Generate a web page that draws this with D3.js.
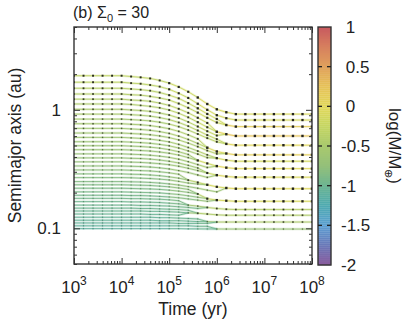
<!DOCTYPE html>
<html>
<head>
<meta charset="utf-8">
<script src="https://cdn.jsdelivr.net/npm/d3@7"></script>
<style>
  body { margin: 0; background: #fff; }
  text { font-family: "Liberation Sans", Arial, sans-serif; fill: #222; }
</style>
</head>
<body>
<div id="chart"></div>
<script>

// output times of the run, log10(yr)
var sampleLogT = [3.0,3.2,3.4,3.6,3.8,4.0,4.2,4.4,4.6,4.8,5.0,5.2,5.4,5.6,5.8,6.0,6.2,6.4,6.6,6.8,7.0,7.2,7.4,7.6,7.8,8.0];

var xMajor = [1e3, 1e4, 1e5, 1e6, 1e7, 1e8];
var yMajor = [0.1, 1];
var yLabels = ['0.1', '1'];
var cbTicks = [1, 0.5, 0, -0.5, -1, -1.5, -2];
var cbLabels = ['\u00a01', '\u00a00.5', '\u00a00', '-0.5', '-1', '-1.5', '-2'];

// colour palette for log(M/Mearth)
var paletteStops  = [-2, -1.75, -1.5, -1.25, -1, -0.75, -0.5, -0.25, 0, 0.25, 0.5, 0.75, 1];
var paletteColors = ['#8a5a9c', '#6a78b8', '#5c9fd2', '#4eaab0', '#6cb492', '#94c07a', '#a9c96e',
                     '#c5d662', '#e2d85a', '#e6c258', '#e0a15c', '#d7805e', '#c85a5f'];

// semimajor axis (au) of each embryo at the sample times;
// a shorter list ends where the embryo merged (last value = partner's position)
var orbits = [
  [1.94,1.94,1.94,1.94,1.94,1.94,1.91,1.88,1.84,1.77,1.68,1.56,1.42,1.27,1.12,1.01,0.954,0.92,0.92,0.92,0.92,0.92,0.92,0.92,0.92,0.92],
  [1.71,1.71,1.71,1.71,1.71,1.71,1.68,1.66,1.62,1.57,1.49,1.38,1.26,1.125,1.00,0.901,0.850,0.82,0.82,0.82,0.82,0.82,0.82,0.82,0.82,0.82],
  [1.52,1.52,1.52,1.52,1.52,1.52,1.50,1.48,1.45,1.40,1.33,1.25,1.14,1.03,0.923,0.837,0.744],
  [1.36,1.36,1.36,1.36,1.36,1.36,1.34,1.33,1.30,1.26,1.21,1.13,1.04,0.947,0.856,0.782,0.744,0.722,0.722,0.722,0.722,0.722,0.722,0.722,0.722,0.722],
  [1.23,1.23,1.23,1.23,1.23,1.23,1.21,1.20,1.18,1.14,1.09,1.02,0.943,0.857,0.775,0.653],
  [1.12,1.12,1.12,1.12,1.12,1.12,1.11,1.09,1.07,1.04,0.996,0.936,0.864,0.787,0.713,0.653,0.623,0.602,0.602,0.602,0.602,0.602,0.602,0.602,0.602,0.602],
  [1.01,1.01,1.01,1.01,1.01,1.01,0.998,0.987,0.970,0.941,0.904,0.853,0.790,0.723,0.660,0.607,0.623],
  [0.92,0.92,0.92,0.92,0.92,0.92,0.910,0.900,0.885,0.860,0.827,0.782,0.728,0.669,0.612,0.566,0.516],
  [0.835,0.835,0.835,0.835,0.835,0.835,0.827,0.818,0.806,0.786,0.758,0.721,0.675,0.625,0.577,0.537,0.516,0.503,0.503,0.503,0.503,0.503,0.503,0.503,0.503,0.503],
  [0.763,0.763,0.763,0.763,0.763,0.763,0.755,0.748,0.736,0.717,0.692,0.658,0.615,0.569,0.479],
  [0.697,0.697,0.697,0.697,0.697,0.697,0.690,0.683,0.672,0.655,0.632,0.600,0.562,0.520,0.479,0.445,0.428,0.417,0.417,0.417,0.417,0.417,0.417,0.417,0.417,0.417],
  [0.637,0.637,0.637,0.637,0.637,0.637,0.631,0.625,0.616,0.602,0.583,0.557,0.524,0.489,0.453,0.425,0.428],
  [0.585,0.585,0.585,0.585,0.585,0.585,0.580,0.574,0.566,0.553,0.536,0.511,0.481,0.449,0.417,0.391,0.376,0.368,0.368,0.368,0.368,0.368,0.368,0.368,0.368,0.368],
  [0.538,0.538,0.538,0.538,0.538,0.538,0.534,0.529,0.522,0.511,0.497,0.476,0.450,0.423,0.395,0.391],
  [0.498,0.498,0.498,0.498,0.498,0.498,0.494,0.490,0.484,0.475,0.461,0.443,0.420,0.374],
  [0.461,0.461,0.461,0.461,0.461,0.461,0.458,0.454,0.449,0.441,0.430,0.415,0.395,0.374,0.353,0.335,0.325,0.319,0.319,0.319,0.319,0.319,0.319,0.319,0.319,0.319],
  [0.425,0.425,0.425,0.425,0.425,0.425,0.422,0.419,0.414,0.407,0.397,0.383,0.365,0.345,0.326,0.335],
  [0.393,0.393,0.393,0.393,0.393,0.393,0.390,0.388,0.384,0.377,0.368,0.356,0.340,0.323,0.293],
  [0.364,0.364,0.364,0.364,0.364,0.364,0.362,0.360,0.356,0.351,0.344,0.334,0.321,0.307,0.293,0.281,0.274,0.270,0.270,0.270,0.270,0.270,0.270,0.270,0.270,0.270],
  [0.336,0.336,0.336,0.336,0.336,0.336,0.334,0.332,0.329,0.324,0.317,0.307,0.296,0.282,0.269,0.281],
  [0.311,0.311,0.311,0.311,0.311,0.311,0.309,0.307,0.305,0.300,0.294,0.286,0.255],
  [0.288,0.288,0.288,0.288,0.288,0.288,0.286,0.285,0.282,0.278,0.272,0.265,0.255,0.244,0.233,0.224,0.219,0.216,0.216,0.216,0.216,0.216,0.216,0.216,0.216,0.216],
  [0.268,0.268,0.268,0.268,0.268,0.268,0.267,0.265,0.263,0.260,0.256,0.249,0.241,0.236,0.233],
  [0.248,0.248,0.248,0.248,0.248,0.248,0.247,0.246,0.244,0.241,0.237,0.232,0.225,0.218,0.210,0.203,0.219],
  [0.233,0.233,0.233,0.233,0.233,0.233,0.232,0.231,0.230,0.227,0.224,0.219,0.213,0.195],
  [0.218,0.218,0.218,0.218,0.218,0.218,0.217,0.216,0.215,0.213,0.210,0.206,0.201,0.195,0.178],
  [0.203,0.203,0.203,0.203,0.203,0.203,0.202,0.201,0.200,0.199,0.196,0.193,0.188,0.183,0.178,0.173,0.171,0.169,0.169,0.169,0.169,0.169,0.169,0.169,0.169,0.169],
  [0.190,0.190,0.190,0.190,0.190,0.190,0.189,0.189,0.188,0.186,0.184,0.181,0.177,0.173,0.169,0.173],
  [0.179,0.179,0.179,0.179,0.179,0.179,0.178,0.178,0.177,0.176,0.174,0.171,0.157],
  [0.168,0.168,0.168,0.168,0.168,0.168,0.167,0.167,0.166,0.165,0.163,0.161,0.157,0.154,0.150,0.147,0.145,0.144,0.144,0.144,0.144,0.144,0.144,0.144,0.144,0.144],
  [0.157,0.157,0.157,0.157,0.157,0.157,0.157,0.156,0.156,0.155,0.154,0.152,0.150,0.147,0.150],
  [0.148,0.148,0.148,0.148,0.148,0.148,0.148,0.147,0.147,0.146,0.145,0.144,0.142,0.134],
  [0.140,0.140,0.140,0.140,0.140,0.140,0.140,0.140,0.139,0.139,0.138,0.137,0.135,0.134,0.132,0.130,0.129,0.129,0.129,0.129,0.129,0.129,0.129,0.129,0.129,0.129],
  [0.132,0.132,0.132,0.132,0.132,0.132,0.132,0.132,0.131,0.131,0.130,0.129,0.135],
  [0.124,0.124,0.124,0.124,0.124,0.124,0.124,0.124,0.124,0.123,0.123,0.122,0.121,0.120,0.114],
  [0.117,0.117,0.117,0.117,0.117,0.117,0.117,0.117,0.117,0.116,0.116,0.116,0.115,0.114,0.114,0.113,0.113,0.113,0.113,0.113,0.113,0.113,0.113,0.113,0.113,0.113],
  [0.111,0.111,0.111,0.111,0.111,0.111,0.111,0.111,0.111,0.111,0.111,0.110,0.110,0.110,0.110,0.113],
  [0.105,0.105,0.105,0.105,0.105,0.105,0.105,0.105,0.105,0.105,0.105,0.105,0.105,0.104,0.104,0.0987],
  [0.0994,0.0994,0.0994,0.0994,0.0994,0.0994,0.0994,0.0994,0.0994,0.0994,0.0994,0.0994,0.0990,0.0989,0.0988,0.0987,0.0986,0.0986,0.0986,0.0986,0.0986,0.0986,0.0986,0.0986,0.0986,0.0986]
];

// log(M/Mearth) of each embryo: [sample index from which it holds, value]
var masses = [
  [[0,-0.30],[10,-0.20],[13,-0.10]],
  [[0,-0.33],[10,-0.23],[13,-0.13]],
  [[0,-0.37],[10,-0.27],[13,-0.17]],
  [[0,-0.40],[10,-0.30],[13,-0.20],[16,0.12]],
  [[0,-0.42],[10,-0.32],[13,-0.22]],
  [[0,-0.45],[10,-0.35],[13,-0.25],[15,0.07],[16,0.23]],
  [[0,-0.48],[10,-0.38],[13,-0.28]],
  [[0,-0.50],[10,-0.40],[13,-0.30]],
  [[0,-0.53],[10,-0.43],[13,-0.33],[16,-0.01]],
  [[0,-0.55],[10,-0.45],[13,-0.35]],
  [[0,-0.58],[10,-0.48],[13,-0.38],[14,-0.06],[16,0.10]],
  [[0,-0.60],[10,-0.50],[13,-0.40]],
  [[0,-0.62],[10,-0.52],[13,-0.42],[15,-0.13]],
  [[0,-0.65],[10,-0.55],[13,-0.45]],
  [[0,-0.67],[10,-0.57]],
  [[0,-0.69],[10,-0.59],[13,-0.18],[15,-0.01]],
  [[0,-0.71],[10,-0.61],[13,-0.51]],
  [[0,-0.73],[10,-0.63],[13,-0.53]],
  [[0,-0.75],[10,-0.65],[13,-0.55],[14,-0.24],[15,-0.07]],
  [[0,-0.77],[10,-0.67],[13,-0.57]],
  [[0,-0.79],[10,-0.69]],
  [[0,-0.81],[10,-0.71],[12,-0.40],[13,-0.30],[14,-0.13],[16,-0.02]],
  [[0,-0.83],[10,-0.73],[13,-0.63]],
  [[0,-0.85],[10,-0.75],[13,-0.65]],
  [[0,-0.87],[10,-0.77]],
  [[0,-0.89],[10,-0.79],[13,-0.38]],
  [[0,-0.91],[10,-0.81],[13,-0.71],[14,-0.21],[15,-0.10]],
  [[0,-0.93],[10,-0.83],[13,-0.73]],
  [[0,-0.94],[10,-0.89]],
  [[0,-0.96],[10,-0.91],[12,-0.60],[13,-0.55],[14,-0.40]],
  [[0,-0.98],[10,-0.93],[13,-0.88]],
  [[0,-0.99],[10,-0.94]],
  [[0,-1.01],[10,-0.96],[12,-0.66],[13,-0.43]],
  [[0,-1.02],[10,-0.97]],
  [[0,-1.04],[10,-0.99],[13,-0.94]],
  [[0,-1.06],[10,-1.01],[13,-0.96],[14,-0.65],[15,-0.48]],
  [[0,-1.07],[10,-1.02],[13,-0.97]],
  [[0,-1.08],[10,-1.03],[13,-0.98]],
  [[0,-1.10],[10,-1.05],[13,-1.00],[15,-0.69]]
];

var W = 406, H = 325;
var plot = {left: 74, right: 312, top: 27, bottom: 264};
var cb = {left: 318, right: 331, top: 27, bottom: 265};

var svg = d3.select('#chart').append('svg')
  .attr('width', W)
  .attr('height', H);

var x = d3.scaleLog().domain([1e3, 1e8]).range([plot.left, plot.right]);
var y = d3.scaleLog().domain([0.05, 5]).range([plot.bottom, plot.top]);
var color = d3.scaleLinear().domain(paletteStops).range(paletteColors).clamp(true);
var cbY = d3.scaleLinear().domain([-2, 1]).range([cb.bottom, cb.top]);

function massAt(j, i) {
  var m = masses[j][0][1];
  masses[j].forEach(function(c) { if (c[0] <= i) m = c[1]; });
  return m;
}
function tx(i) { return x(Math.pow(10, sampleLogT[i])); }
function sz(m) { return Math.max(0.9, Math.min(2.4, 1.0 + (m + 0.8) * 1.9)); }
function dotOpacity(m) { return Math.max(0.35, Math.min(0.95, 0.4 + (m + 0.8) * 1.0)); }

svg.append('clipPath').attr('id', 'clip')
  .append('rect')
    .attr('x', plot.left).attr('y', plot.top)
    .attr('width', plot.right - plot.left)
    .attr('height', plot.bottom - plot.top);

var body = svg.append('g').attr('clip-path', 'url(#clip)');

// build segments, coloured by the mass at the segment start
var segs = [], dots = [];
orbits.forEach(function(a, j) {
  var merged = a.length < sampleLogT.length;
  for (var i = 0; i < a.length; i++) {
    var m = massAt(j, i);
    if (i < a.length - 1) {
      segs.push({x1: tx(i), y1: y(a[i]), x2: tx(i + 1), y2: y(a[i + 1]), m: m});
    }
    if (!(merged && i === a.length - 1)) {
      dots.push({x: tx(i), y: y(a[i]), m: m});
    }
  }
});

// pale halo
body.append('g').selectAll('line').data(segs).enter().append('line')
  .attr('x1', function(d) { return d.x1; })
  .attr('y1', function(d) { return d.y1; })
  .attr('x2', function(d) { return d.x2; })
  .attr('y2', function(d) { return d.y2; })
  .attr('stroke', function(d) { return color(d.m); })
  .attr('stroke-width', 2.4)
  .attr('stroke-opacity', 0.28)
  .attr('stroke-linecap', 'round');

body.append('g').selectAll('line').data(segs).enter().append('line')
  .attr('x1', function(d) { return d.x1; })
  .attr('y1', function(d) { return d.y1; })
  .attr('x2', function(d) { return d.x2; })
  .attr('y2', function(d) { return d.y2; })
  .attr('stroke', function(d) { return color(d.m); })
  .attr('stroke-width', 0.9)
  .attr('stroke-linecap', 'round');

body.append('g').selectAll('rect').data(dots).enter().append('rect')
  .attr('x', function(d) { return d.x - sz(d.m) / 2; })
  .attr('y', function(d) { return d.y - sz(d.m) / 2; })
  .attr('width', function(d) { return sz(d.m); })
  .attr('height', function(d) { return sz(d.m); })
  .attr('fill', '#1a1a1a')
  .attr('fill-opacity', function(d) { return dotOpacity(d.m); });

// ticks (inward, on all four sides)
var xMinor = [], yMinor = [];
xMajor.slice(0, -1).forEach(function(d) { for (var k = 2; k < 10; k++) xMinor.push(d * k); });
[0.01, 0.1, 1].forEach(function(d) { for (var k = 2; k < 10; k++) { var v = d * k; if (v >= 0.05 && v <= 5) yMinor.push(v); } });

function addAxis(axis, dx, dy) {
  var g = svg.append('g')
    .attr('transform', 'translate(' + dx + ',' + dy + ')')
    .call(axis);
  g.select('.domain').remove();
  g.selectAll('.tick line').attr('stroke', '#333');
  return g;
}
addAxis(d3.axisBottom(x).tickValues(xMajor).tickSizeInner(-6).tickSizeOuter(0).tickFormat(''), 0, plot.bottom);
addAxis(d3.axisBottom(x).tickValues(xMinor).tickSizeInner(-3).tickSizeOuter(0).tickFormat(''), 0, plot.bottom);
addAxis(d3.axisTop(x).tickValues(xMajor).tickSizeInner(-6).tickSizeOuter(0).tickFormat(''), 0, plot.top);
addAxis(d3.axisTop(x).tickValues(xMinor).tickSizeInner(-3).tickSizeOuter(0).tickFormat(''), 0, plot.top);
var yAx = addAxis(d3.axisLeft(y).tickValues(yMajor).tickSizeInner(-6).tickSizeOuter(0).tickPadding(13)
  .tickFormat(function(d, i) { return yLabels[i]; }), plot.left, 0);
yAx.selectAll('text').attr('font-size', 17).attr('font-family', '"Liberation Sans", Arial, sans-serif').attr('fill', '#222');
addAxis(d3.axisLeft(y).tickValues(yMinor).tickSizeInner(-3).tickSizeOuter(0).tickFormat(''), plot.left, 0);
addAxis(d3.axisRight(y).tickValues(yMajor).tickSizeInner(-6).tickSizeOuter(0).tickFormat(''), plot.right, 0);
addAxis(d3.axisRight(y).tickValues(yMinor).tickSizeInner(-3).tickSizeOuter(0).tickFormat(''), plot.right, 0);

svg.append('rect')
  .attr('x', plot.left).attr('y', plot.top)
  .attr('width', plot.right - plot.left)
  .attr('height', plot.bottom - plot.top)
  .attr('fill', 'none')
  .attr('stroke', '#333')
  .attr('stroke-width', 1.4);

// x tick labels 10^n
svg.append('g').selectAll('text').data(xMajor).enter().append('text')
  .attr('x', function(d) { return x(d); })
  .attr('y', 293)
  .attr('text-anchor', 'middle')
  .attr('font-size', 17)
  .each(function(d) {
    var t = d3.select(this);
    t.append('tspan').text('10');
    t.append('tspan').attr('dy', -8).attr('font-size', 12).text(Math.round(Math.log10(d)));
  });

svg.append('text')
  .attr('x', (plot.left + plot.right) / 2)
  .attr('y', 315)
  .attr('text-anchor', 'middle')
  .attr('font-size', 17.5)
  .text('Time (yr)');

svg.append('text')
  .attr('transform', 'translate(21,' + (plot.top + plot.bottom) / 2 + ') rotate(-90)')
  .attr('text-anchor', 'middle')
  .attr('font-size', 17.5)
  .text('Semimajor axis (au)');

// title
var title = svg.append('text')
  .attr('x', 73)
  .attr('y', 18)
  .attr('font-size', 16);
title.append('tspan').text('(b) \u03a3');
title.append('tspan').attr('dy', 4).attr('font-size', 11).text('0');
title.append('tspan').attr('dy', -4).text(' = 30');

// colour bar
var cbSteps = d3.range(-2, 1, 0.025);
svg.append('g').selectAll('rect').data(cbSteps).enter().append('rect')
  .attr('x', cb.left)
  .attr('y', function(d) { return cbY(d + 0.025); })
  .attr('width', cb.right - cb.left)
  .attr('height', function(d) { return cbY(d) - cbY(d + 0.025) + 0.3; })
  .attr('fill', function(d) { return color(d + 0.0125); });

svg.append('rect')
  .attr('x', cb.left).attr('y', cb.top)
  .attr('width', cb.right - cb.left)
  .attr('height', cb.bottom - cb.top)
  .attr('fill', 'none')
  .attr('stroke', '#333')
  .attr('stroke-width', 1.4);

var inner = cbTicks.filter(function(d) { return d > -2 && d < 1; });
var cbt = svg.append('g');
cbt.selectAll('.l').data(inner).enter().append('line')
  .attr('x1', cb.left).attr('x2', cb.left + 4)
  .attr('y1', function(d) { return cbY(d); }).attr('y2', function(d) { return cbY(d); })
  .attr('stroke', '#222').attr('stroke-width', 1.3);
cbt.selectAll('.r').data(inner).enter().append('line')
  .attr('x1', cb.right - 4).attr('x2', cb.right)
  .attr('y1', function(d) { return cbY(d); }).attr('y2', function(d) { return cbY(d); })
  .attr('stroke', '#222').attr('stroke-width', 1.3);

svg.append('g').selectAll('text').data(cbTicks).enter().append('text')
  .attr('x', 341)
  .attr('y', function(d) { return cbY(d); })
  .attr('dy', '0.35em')
  .attr('font-size', 17)
  .text(function(d, i) { return cbLabels[i]; });

var cbLab = svg.append('text')
  .attr('transform', 'translate(389,146) rotate(90)')
  .attr('text-anchor', 'middle')
  .attr('font-size', 17);
cbLab.append('tspan').text('log(M/M');
cbLab.append('tspan').attr('dy', 4).attr('font-size', 11).text('\u2295');
cbLab.append('tspan').attr('dy', -4).text(')');

</script>
</body>
</html>
